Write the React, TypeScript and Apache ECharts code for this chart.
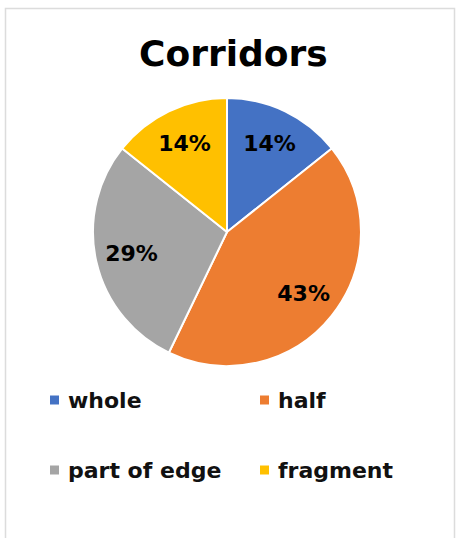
import React, { useEffect, useRef } from "react";
import * as echarts from "echarts";

const categories = ["whole", "half", "part of edge", "fragment"];
const values = [1, 3, 2, 1];
const colors = ["#4472C4", "#ED7D31", "#A5A5A5", "#FFC000"];
const titleText = "Corridors";

export default function App() {
  const ref = useRef<HTMLDivElement>(null);
  useEffect(() => {
    if (!ref.current) return;
    const chart = echarts.init(ref.current, undefined, { renderer: "svg" });
    const data = categories.map((name, i) => ({
      name,
      value: values[i],
      itemStyle: { color: colors[i] },
    }));
    const legendPos = [
      { left: 48, top: 389 },
      { left: 258, top: 389 },
      { left: 48, top: 459 },
      { left: 258, top: 459 },
    ];
    const font = "DejaVu Sans";
    chart.setOption({
      animation: false,
      backgroundColor: "#ffffff",
      title: {
        text: titleText,
        left: 139,
        top: 35,
        padding: 0,
        textStyle: { fontFamily: font, fontWeight: "bold", fontSize: 36, color: "#000" },
      },
      legend: categories.map((name, i) => ({
        data: [name],
        left: legendPos[i].left,
        top: legendPos[i].top,
        icon: "rect",
        itemWidth: 11,
        itemHeight: 11,
        padding: 0,
        selectedMode: false,
        textStyle: {
          fontFamily: font,
          fontWeight: "bold",
          fontSize: 22,
          lineHeight: 22,
          color: "#111",
          padding: [0, 0, 0, 3],
        },
      })),
      graphic: [
        {
          type: "rect",
          shape: { x: 5.5, y: 8.5, width: 449, height: 560 },
          style: { fill: "none", stroke: "#dcdcdc", lineWidth: 1.5 },
          silent: true,
        },
      ],
      series: [
        {
          type: "pie",
          center: [227, 232],
          radius: [0, 134],
          startAngle: 90,
          clockwise: true,
          data,
          label: { show: false },
          labelLine: { show: false },
          itemStyle: { borderColor: "#ffffff", borderWidth: 2 },
          emphasis: { disabled: true },
        },
        {
          type: "pie",
          center: [227, 232],
          radius: [56, 134],
          startAngle: 90,
          clockwise: true,
          silent: true,
          data: categories.map((name, i) => ({ name, value: values[i] })),
          itemStyle: { color: "rgba(0,0,0,0)", borderWidth: 0 },
          label: {
            show: true,
            position: "inside",
            formatter: (p: any) => `${Math.round(p.percent)}%`,
            fontFamily: font,
            fontWeight: "bold",
            fontSize: 22,
            color: "#000",
          },
          labelLine: { show: false },
          emphasis: { disabled: true },
        },
      ],
    });
    return () => chart.dispose();
  }, []);
  return (
    <div
      ref={ref}
      style={{ position: "fixed", left: 0, top: 0, width: 457, height: 538 }}
    />
  );
}
